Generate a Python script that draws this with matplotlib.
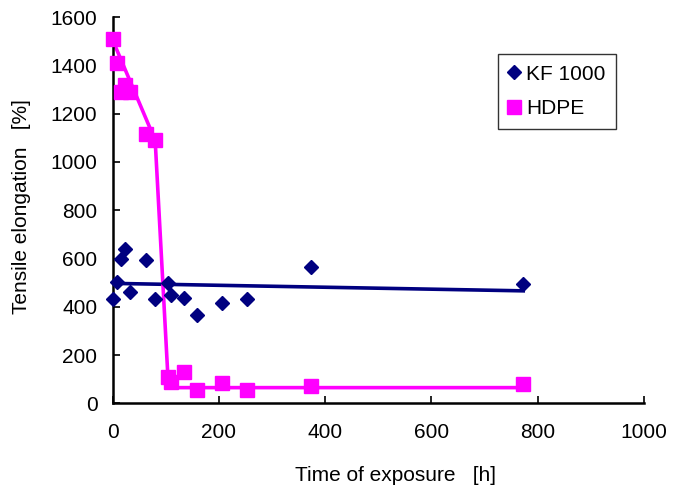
import matplotlib
matplotlib.use("Agg")
import matplotlib.pyplot as plt

plt.rcParams['font.family'] = ['Liberation Sans', 'DejaVu Sans']

# KF 1000 measurements
kf_time = [0, 8, 16, 24, 32, 63, 80, 105, 110, 134, 158, 206, 253, 373, 773]
kf_elong = [432, 501, 600, 638, 460, 593, 431, 497, 447, 436, 364, 414, 431, 563, 493]
# KF 1000 trend line
kf_fit_time = [0, 773]
kf_fit_elong = [497, 466]

# HDPE measurements
hdpe_time = [0, 8, 15, 23, 32, 63, 80, 104, 110, 134, 158, 206, 253, 373, 773]
hdpe_elong = [1508, 1410, 1290, 1318, 1290, 1115, 1090, 110, 89, 128, 55, 83, 55, 73, 80]
# HDPE trend line
hdpe_fit_time = [0, 80, 104, 120, 773]
hdpe_fit_elong = [1505, 1090, 110, 65, 65]

x_ticks = [0, 200, 400, 600, 800, 1000]
y_ticks = [0, 200, 400, 600, 800, 1000, 1200, 1400, 1600]

navy = '#000080'
magenta = '#FF00FF'

fig = plt.figure(figsize=(6.82, 4.9), dpi=100)
ax = fig.add_axes([0.1652, 0.1769, 0.944 - 0.1652, 0.965 - 0.1769])

ax.plot(kf_fit_time, kf_fit_elong, color=navy, lw=2.6, zorder=2)
ax.plot(hdpe_fit_time, hdpe_fit_elong, color=magenta, lw=2.6, zorder=2)
ax.plot(kf_time, kf_elong, linestyle='none', marker='D', ms=7.5, color=navy,
        label='KF 1000', zorder=3, clip_on=False)
ax.plot(hdpe_time, hdpe_elong, linestyle='none', marker='s', ms=10, color=magenta,
        label='HDPE', zorder=3, clip_on=False)

ax.set_xlim(0, 1000)
ax.set_ylim(0, 1600)
ax.set_xticks(x_ticks)
ax.set_yticks(y_ticks)
ax.tick_params(direction='in', length=5, width=1.2, labelsize=15)
ax.tick_params(axis='x', pad=14)
ax.tick_params(axis='y', pad=11)
for s in ['top', 'right']:
    ax.spines[s].set_visible(False)
for s in ['left', 'bottom']:
    ax.spines[s].set_linewidth(1.8)

ax.set_xlabel('Time of exposure   [h]', fontsize=15)
ax.xaxis.set_label_coords(0.533, -0.188)
ax.xaxis.label.set_va('center')
ax.set_ylabel('Tensile elongation   [%]', fontsize=15)
ax.yaxis.set_label_coords(-0.171, 0.509)
ax.yaxis.label.set_va('center')
ax.yaxis.label.set_ha('center')

leg = ax.legend(loc='upper left', bbox_to_anchor=(0.725, 0.904), frameon=True,
                fancybox=False, edgecolor='black', fontsize=15, handlelength=0.6,
                handletextpad=0.25, labelspacing=0.75, borderpad=0.5,
                borderaxespad=0.0)
leg.get_frame().set_linewidth(1.0)

fig.savefig('out.png', dpi=100)
